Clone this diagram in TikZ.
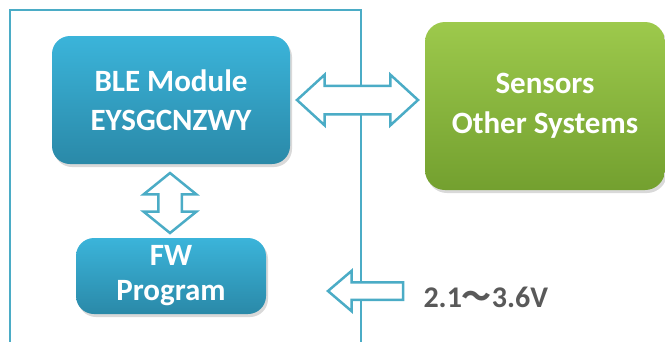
\documentclass[tikz,border=0pt]{standalone}
\usepackage{fontspec}
\setmainfont{Carlito}
\newfontfamily\cjk{Noto Sans CJK SC}
\usetikzlibrary{calc,shapes.arrows,shadows}
\definecolor{frameblue}{HTML}{4BACC6}
\definecolor{bluetop}{HTML}{3BB4DA}
\definecolor{bluebot}{HTML}{2A89A8}
\definecolor{greentop}{HTML}{9DC94C}
\definecolor{greenbot}{HTML}{73A02F}
\definecolor{voltgray}{HTML}{595959}
\tikzset{
	boxshadow/.style={drop shadow={opacity=0.3, shadow xshift=2pt, shadow yshift=-3pt}},
	bluebox/.style={rounded corners=18pt, top color=bluetop, bottom color=bluebot, text=white, align=center, font=\bfseries\fontsize{31}{39}\selectfont, boxshadow},
	greenbox/.style={rounded corners=20pt, top color=greentop, bottom color=greenbot, text=white, align=center, font=\bfseries\fontsize{31}{40}\selectfont, boxshadow},
	blockarrow/.style={draw=frameblue, line width=2.5pt, fill=white, inner xsep=0pt, outer sep=0pt, miter limit=20},
}

\begin{document}
\begin{tikzpicture}[x=1pt, y=-1pt]
			%%%%% START %%%%%
			\useasboundingbox (0, 0) rectangle (665, 341);
			
			% outer frame, open at the bottom
			\draw[line width=2.8pt, color=frameblue] (10, 345) -- (10, 10) -- (361, 10) -- (361, 345);
			
			\node[bluebox, minimum width=238pt, minimum height=128pt] (ble) at (171, 100) {BLE Module\\EYSGCNZWY};
			\node[bluebox, minimum width=190pt, minimum height=76pt, font=\bfseries\fontsize{31}{35}\selectfont] (fw) at (171, 276) {FW\\Program};
			\node[greenbox, minimum width=240pt, minimum height=168pt] (sens) at (545, 106) {Sensors\\Other Systems};
			
			\node[anchor=west, text=voltgray, font=\bfseries\fontsize{30}{36}\selectfont] (volt) at (420, 297) {2.1{\cjk ～}3.6V};
			
			% block arrows
			\node[blockarrow, double arrow, minimum height=121pt, inner ysep=13pt, double arrow head extend=11pt, double arrow tip angle=85] (link) at ($(ble.east)!0.5!(sens.west |- ble.east)$) {};
			\node[blockarrow, double arrow, rotate=90, minimum height=60pt, inner ysep=10.5pt, double arrow head extend=14.5pt, double arrow tip angle=102] (bus) at ($(ble.south)!0.5!(fw.north)+(-1, 2)$) {};
			\node[blockarrow, single arrow, shape border rotate=180, anchor=tail, minimum height=75pt, inner ysep=7.5pt, single arrow head extend=11.5pt, single arrow tip angle=81] (vin) at ($(volt.west)+(-17, -6)$) {};
			
			%%%%% END %%%%%
		\end{tikzpicture}
\end{document}
